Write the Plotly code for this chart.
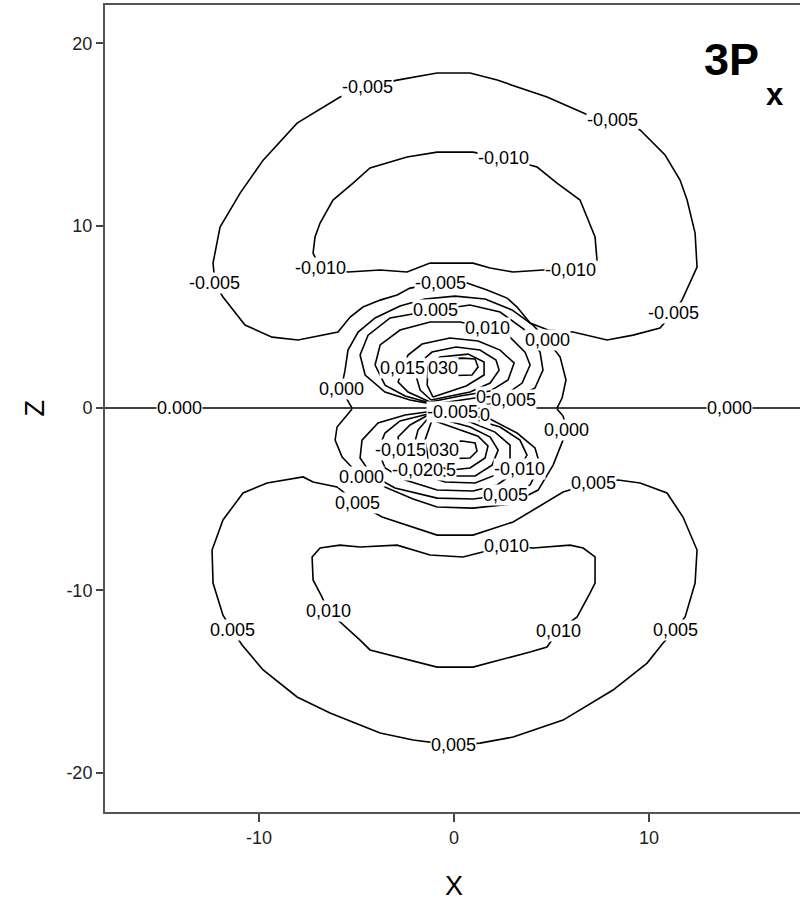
import plotly.graph_objects as go

# ---- contour polylines, (X, Z) in bohr-like units ----
# -0.005, outer negative lobe above the nodal plane
neg005_up_x = [-11.85, -10.72, -9.33, -8.0, -5.95, -5.33, -4.67, -3.79, -2.92, -2.26, -0.67, 0.67, 1.69, 2.72, 3.23, 3.9, 4.82, 6.1, 7.85, 9.18, 10.56, 11.23, 11.69, 12.46, 12.36, 11.95, 11.59, 10.82, 9.54, 8.1, 6.87, 4.77, 2.21, 0.82, -0.87, -2.92, -4.46, -5.85, -8.05, -9.79, -10.97, -12.0, -12.36, -12.26, -11.85]
neg005_up_z = [6.09, 4.55, 3.89, 3.73, 4.17, 4.99, 5.54, 5.92, 6.2, 6.58, 6.86, 6.86, 6.47, 6.03, 5.54, 4.66, 4.28, 4.17, 3.73, 4.0, 4.39, 5.21, 5.92, 7.73, 9.6, 11.41, 12.51, 13.88, 15.25, 15.8, 16.07, 17.06, 17.99, 18.38, 18.38, 17.99, 17.61, 17.06, 15.63, 13.6, 11.79, 9.93, 7.95, 6.86, 6.09]

# -0.010, outer negative lobe above the nodal plane
neg010_up_x = [-6.87, -5.44, -3.79, -2.41, -1.23, 0.97, 1.85, 3.03, 4.56, 5.95, 7.33, 7.23, 6.46, 5.28, 4.26, 2.51, 0.97, -0.87, -2.41, -4.31, -5.18, -6.21, -6.87, -7.13, -7.23, -6.87]
neg010_up_z = [7.68, 7.46, 7.57, 7.46, 7.95, 7.95, 7.68, 7.46, 7.57, 7.57, 8.12, 9.38, 11.41, 12.34, 13.22, 13.71, 14.04, 14.04, 13.77, 13.17, 12.34, 11.41, 10.15, 9.38, 8.5, 7.68]

# 0.000, radial node above the plane
node_up_x = [-5.23, -5.79, -5.59, -5.44, -4.92, -4.05, -2.77, -1.49, 0.05, 1.59, 2.97, 4.05, 4.77, 5.44, 5.74, 5.54, 5.28]
node_up_z = [0.0, 1.04, 2.08, 3.18, 4.17, 4.94, 5.6, 5.98, 6.14, 5.98, 5.38, 4.55, 3.73, 2.8, 1.54, 0.55, 0.0]

# inner positive lobe, 0.005 ... 0.030
pos005_up_x = [-0.82, -2.26, -3.54, -4.56, -4.82, -4.41, -3.28, -0.97, 0.82, 2.36, 3.64, 4.41, 4.56, 4.15, 3.03, 1.85, 0.31, -0.82]
pos005_up_z = [0.16, 0.44, 0.88, 1.81, 2.91, 4.0, 4.94, 5.38, 5.65, 5.27, 4.28, 3.07, 2.08, 1.1, 0.44, 0.22, 0.16, 0.16]
pos010_up_x = [-1.03, -2.51, -3.54, -4.05, -3.79, -2.77, -1.23, 0.31, 1.69, 2.87, 3.64, 3.9, 3.49, 2.62, 1.08, -1.03]
pos010_up_z = [0.22, 0.66, 1.26, 2.36, 3.46, 4.28, 4.72, 4.72, 4.39, 3.89, 3.07, 2.36, 1.37, 0.71, 0.55, 0.22]
pos015_up_x = [-1.23, -2.36, -2.87, -2.62, -2.36, -1.64, -0.21, 1.23, 2.36, 3.08, 2.77, 1.85, 0.31, -1.23]
pos015_up_z = [0.33, 0.88, 1.43, 2.19, 2.91, 3.51, 3.84, 3.68, 3.18, 2.47, 1.54, 0.93, 0.66, 0.33]
pos020_up_x = [-1.18, -1.74, -1.95, -1.74, -1.13, 0.1, 1.33, 2.15, 2.31, 1.85, 0.82, -1.18]
pos020_up_z = [0.44, 0.99, 1.76, 2.52, 3.07, 3.35, 3.18, 2.63, 2.08, 1.37, 0.88, 0.44]
pos025_up_x = [-1.08, -1.38, -1.33, -0.72, 0.72, 1.54, 1.54, 0.62, -1.08]
pos025_up_z = [0.6, 1.26, 2.3, 2.8, 2.96, 2.52, 1.81, 1.21, 0.6]
pos030_up_x = [-1.23, -0.92, 0.41, 1.08, 1.23, 0.92, -0.72, -1.23]
pos030_up_z = [2.19, 2.63, 2.74, 2.69, 2.25, 1.81, 1.76, 2.19]

# nodal plane z = 0
plane_x = [-18.0, 18.0]
plane_z = [0.0, 0.0]

# 0.000, radial node below the plane
node_lo_x = [-5.23, -6.0, -6.1, -5.74, -4.77, -3.54, -2.1, -0.87, 0.97, 2.87, 4.31, 5.08, 5.49, 5.79, 5.59, 5.28]
node_lo_z = [-0.05, -1.04, -1.76, -2.69, -3.78, -4.33, -4.99, -5.43, -5.49, -5.27, -4.5, -3.13, -2.03, -1.21, -0.44, -0.05]

# inner negative lobe, -0.005 ... -0.030
neg005_lo_x = [-1.03, -2.51, -3.9, -4.72, -4.82, -4.21, -3.03, -0.87, 0.97, 2.62, 3.9, 4.41, 4.15, 3.23, 1.85, -0.1, -1.03]
neg005_lo_z = [-0.16, -0.38, -0.82, -1.76, -2.74, -3.68, -4.39, -4.94, -4.99, -4.77, -4.22, -3.13, -2.19, -1.37, -0.6, -0.22, -0.16]
neg010_lo_x = [-1.13, -2.77, -3.54, -3.9, -3.54, -2.51, -0.87, 0.97, 2.21, 3.33, 3.74, 3.38, 2.36, 0.82, -1.13]
neg010_lo_z = [-0.27, -0.71, -1.37, -2.3, -3.29, -3.95, -4.5, -4.55, -4.22, -3.35, -2.58, -1.76, -1.04, -0.55, -0.27]
neg015_lo_x = [-1.23, -2.26, -2.87, -2.77, -2.51, -1.74, -0.46, 1.08, 2.1, 2.87, 2.87, 2.1, 0.82, -1.23]
neg015_lo_z = [-0.33, -0.93, -1.59, -2.3, -2.96, -3.62, -4.06, -4.11, -3.68, -2.85, -2.03, -1.32, -0.77, -0.33]
neg020_lo_x = [-1.23, -1.85, -2.05, -2.05, -1.85, -0.46, 1.08, 1.95, 2.26, 1.85, 0.82, -1.23]
neg020_lo_z = [-0.44, -1.21, -2.03, -2.85, -3.4, -3.73, -3.73, -3.13, -2.3, -1.59, -1.04, -0.44]
neg025_lo_x = [-1.13, -1.49, -1.33, -0.72, -0.15, 0.82, 1.59, 1.74, 1.23, 0.05, -1.13]
neg025_lo_z = [-0.66, -1.76, -2.74, -3.24, -3.4, -3.29, -2.74, -2.08, -1.54, -1.1, -0.66]
neg030_lo_x = [-1.23, -0.97, 0.41, 1.08, 1.18, 0.82, -0.72, -1.23]
neg030_lo_z = [-2.3, -1.92, -1.81, -1.92, -2.36, -2.74, -2.8, -2.3]

# 0.005, outer positive lobe below the plane
pos005_lo_x = [-11.38, -10.87, -9.79, -8.05, -6.36, -3.79, -2.1, -0.05, 1.33, 3.03, 5.59, 8.15, 9.9, 10.72, 11.33, 11.85, 12.36, 12.46, 11.74, 10.92, 9.54, 8.41, 7.13, 5.59, 3.03, 0.97, -0.87, -3.69, -4.97, -6.0, -7.23, -7.74, -9.59, -10.82, -11.85, -12.41, -12.36, -11.85, -11.38]
pos005_lo_z = [-12.18, -13.0, -14.37, -15.85, -16.73, -17.83, -18.21, -18.49, -18.38, -18.05, -17.12, -15.47, -13.99, -12.89, -12.18, -11.46, -9.6, -7.79, -5.98, -4.66, -4.11, -3.95, -4.11, -4.61, -6.25, -6.97, -6.97, -5.98, -5.21, -4.33, -4.06, -3.78, -4.11, -4.66, -6.14, -7.79, -9.6, -11.36, -12.18]

# 0.010, outer positive lobe below the plane
pos010_lo_x = [2.67, 4.05, 5.95, 6.62, 7.23, 7.23, 6.97, 6.31, 5.33, 4.77, 3.9, 0.97, -0.87, -4.31, -4.82, -5.69, -6.46, -6.77, -7.23, -7.28, -6.87, -5.85, -4.82, -2.92, -1.23, 0.46, 1.33, 2.67]
pos010_lo_z = [-7.57, -7.68, -7.52, -7.68, -8.17, -9.6, -10.15, -11.46, -12.23, -13.11, -13.38, -14.21, -14.21, -13.27, -12.73, -11.9, -11.14, -10.37, -9.43, -8.17, -7.68, -7.52, -7.62, -7.52, -8.06, -8.17, -7.95, -7.57]

# ---- contour labels (crowded inner labels are clipped by their neighbours) ----
label_text = ["-0,005", "-0,005", "-0,010", "-0.005", "-0,010", "-0,010", "-0,005", "-0.005",
              "0.005", "0,010", "0,000", "0,015", "030", "0,000", "0,005", "0",
              "0.000", "0,000",
              "-0.005", "0", "-0,015", "030", "-0,020", "5", "-0,010", "0.000", "0,000",
              "0,005", "0,005", "0,005", "0,010", "0,010", "0,010", "0.005", "0,005", "0,005"]
label_x = [-4.46, 8.1, 2.51, -12.26, -6.87, 5.95, -0.67, 11.23,
           -0.97, 1.69, 4.77, -2.64, -0.59, -5.79, 3.03, 1.4,
           -14.1, 14.1,
           -0.1, 1.59, -2.77, -0.54, -1.85, -0.15, 3.33, -4.77, 5.79,
           2.62, -4.97, 7.13, 2.67, -6.46, 5.33, -11.38, 11.33, -0.05]
label_z = [17.61, 15.8, 13.71, 6.86, 7.68, 7.57, 6.86, 5.21,
           5.38, 4.39, 3.73, 2.19, 2.19, 1.04, 0.44, 0.6,
           0.0, 0.0,
           -0.22, -0.4, -2.3, -2.3, -3.4, -3.4, -3.35, -3.78, -1.21,
           -4.77, -5.21, -4.11, -7.57, -11.14, -12.23, -12.18, -12.18, -18.49]

x_ticks = [-10, 0, 10]
x_tick_text = ["-10", "0", "10"]
z_ticks = [-20, -10, 0, 10, 20]
z_tick_text = ["-20", "-10", "0", "10", "20"]

paths = [
    (neg005_up_x, neg005_up_z), (neg010_up_x, neg010_up_z), (node_up_x, node_up_z),
    (pos005_up_x, pos005_up_z), (pos010_up_x, pos010_up_z), (pos015_up_x, pos015_up_z),
    (pos020_up_x, pos020_up_z), (pos025_up_x, pos025_up_z), (pos030_up_x, pos030_up_z),
    (plane_x, plane_z),
    (node_lo_x, node_lo_z), (neg005_lo_x, neg005_lo_z), (neg010_lo_x, neg010_lo_z),
    (neg015_lo_x, neg015_lo_z), (neg020_lo_x, neg020_lo_z), (neg025_lo_x, neg025_lo_z),
    (neg030_lo_x, neg030_lo_z), (pos005_lo_x, pos005_lo_z), (pos010_lo_x, pos010_lo_z),
]

FONT = "Liberation Sans, Arial, Helvetica, sans-serif"

fig = go.Figure()
for px, pz in paths:
    fig.add_trace(go.Scatter(x=px, y=pz, mode="lines",
                             line=dict(color="black", width=1.6),
                             hoverinfo="skip", showlegend=False))

for t, lx, lz in zip(label_text, label_x, label_z):
    fig.add_annotation(x=lx, y=lz, xref="x", yref="y", text=t, showarrow=False,
                       bgcolor="white", borderpad=0, xanchor="center", yanchor="middle",
                       font=dict(family=FONT, size=18, color="black"))

# axis titles and orbital name
fig.add_annotation(x=0, y=-0.0917, xref="x", yref="paper", text="X", showarrow=False,
                   xanchor="center", yanchor="middle",
                   font=dict(family=FONT, size=27, color="black"))
fig.add_annotation(x=-0.1, y=0, xref="paper", yref="y", text="Z", showarrow=False,
                   xanchor="center", yanchor="middle", textangle=-90,
                   font=dict(family=FONT, size=27, color="black"))
fig.add_annotation(x=0.901, y=0.932, xref="paper", yref="paper", text="<b>3P</b>",
                   showarrow=False, xanchor="center", yanchor="middle",
                   font=dict(family=FONT, size=45, color="black"))
fig.add_annotation(x=0.964, y=0.889, xref="paper", yref="paper", text="<b>x</b>",
                   showarrow=False, xanchor="center", yanchor="middle",
                   font=dict(family=FONT, size=31, color="black"))

fig.update_xaxes(range=[-17.9, 17.74], tickvals=x_ticks, ticktext=x_tick_text,
                 ticks="outside", ticklen=8, tickwidth=1.5, tickcolor="#444",
                 showline=True, mirror=True, linecolor="#555", linewidth=2,
                 showgrid=False, zeroline=False,
                 tickfont=dict(family=FONT, size=18, color="#222"))
fig.update_yaxes(range=[-22.16, 22.11], tickvals=z_ticks, ticktext=z_tick_text,
                 ticks="outside", ticklen=7, tickwidth=1.5, tickcolor="#444",
                 showline=True, mirror=False, linecolor="#555", linewidth=2,
                 showgrid=False, zeroline=False,
                 tickfont=dict(family=FONT, size=18, color="#222"))

fig.update_layout(width=800, height=912, margin=dict(l=105, r=0, t=5, b=100),
                  plot_bgcolor="white", paper_bgcolor="white")

fig.write_html("out.html")
